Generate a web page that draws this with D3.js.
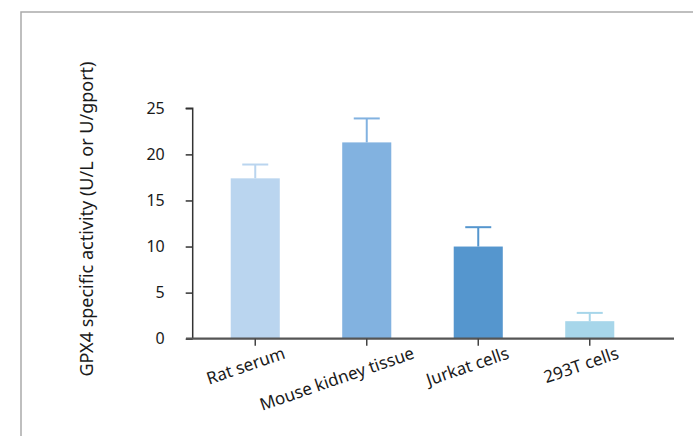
<!DOCTYPE html>
<html>
<head>
<meta charset="utf-8">
<script src="https://cdn.jsdelivr.net/npm/d3@7/dist/d3.min.js"></script>
<style>
  html, body { margin: 0; padding: 0; background: #fff; }
  svg { display: block; font-family: "Noto Sans", "Open Sans", sans-serif; }
</style>
</head>
<body>
<svg id="chart" width="693" height="436"></svg>
<script>
// GPX4 specific activity by sample type (mean + SD)
const categories = ["Rat serum", "Mouse kidney tissue", "Jurkat cells", "293T cells"];
const means = [17.4, 21.3, 10.0, 1.9];
const errors = [1.5, 2.6, 2.1, 0.9];
const barColors = ["#bad5ef", "#82b2e0", "#5596ce", "#a7d6ea"];
const yTicks = [0, 5, 10, 15, 20, 25];
const yLabel = "GPX4 specific activity (U/L or U/gport)";

const svg = d3.select("#chart");

// outer frame (top and left edges)
svg.append("path")
  .attr("d", "M21,436V12H693")
  .attr("fill", "none")
  .attr("stroke", "#ababab")
  .attr("stroke-width", 1.5);

const axisX = 192.7;
const y = d3.scaleLinear().domain([0, 25]).range([338.7, 108.3]);
const x = d3.scaleBand().domain(categories)
  .range([199.5, 645.5]).paddingInner(0.56).paddingOuter(0.28);

const data = categories.map((c, i) => ({ c, m: means[i], e: errors[i], col: barColors[i] }));

// bars
svg.append("g").selectAll("rect").data(data).join("rect")
  .attr("x", d => x(d.c))
  .attr("y", d => y(d.m))
  .attr("width", x.bandwidth())
  .attr("height", d => y(0) - y(d.m))
  .attr("fill", d => d.col);

// error bars (upper whisker + cap)
const eb = svg.append("g").selectAll("g").data(data).join("g")
  .attr("stroke", d => d.col)
  .attr("stroke-width", 2);
eb.append("line")
  .attr("x1", d => x(d.c) + x.bandwidth() / 2)
  .attr("x2", d => x(d.c) + x.bandwidth() / 2)
  .attr("y1", d => y(d.m))
  .attr("y2", d => y(d.m + d.e));
eb.append("line")
  .attr("x1", d => x(d.c) + x.bandwidth() / 2 - 13)
  .attr("x2", d => x(d.c) + x.bandwidth() / 2 + 13)
  .attr("y1", d => y(d.m + d.e))
  .attr("y2", d => y(d.m + d.e));

// y axis
const yAxis = svg.append("g")
  .attr("transform", `translate(${axisX},0)`)
  .call(d3.axisLeft(y).tickValues(yTicks).tickSize(7).tickPadding(21).tickFormat(d3.format("d")));
yAxis.select(".domain").attr("stroke", "#333").attr("stroke-width", 1.5)
  .attr("d", `M-7,${y(25)}H0V${y(0)}`);
yAxis.selectAll(".tick line").attr("stroke", "#333").attr("stroke-width", 1.5);
yAxis.selectAll(".tick text")
  .attr("fill", "#1a1a1a")
  .style("font-size", "16px")
  .style("font-family", "\"Noto Sans\", sans-serif");

// x axis
const xAxis = svg.append("g")
  .attr("transform", `translate(0,${y(0)})`)
  .call(d3.axisBottom(x).tickSize(7).tickFormat(""));
xAxis.select(".domain").attr("stroke", "#555").attr("stroke-width", 2.2)
  .attr("d", `M186,0H674`);
xAxis.selectAll(".tick line").attr("stroke", "#444").attr("stroke-width", 1.5);

// rotated category labels
const labels = svg.append("g").selectAll("text").data(categories).join("text")
  .text(d => d)
  .attr("text-anchor", "end")
  .attr("fill", "#1a1a1a")
  .style("font-size", "17px");
labels.each(function (d) {
  const len = this.getComputedTextLength();
  const ex = x(d) + x.bandwidth() / 2 + 13 + 0.22 * len;
  const ey = 358;
  d3.select(this).attr("transform", `translate(${ex},${ey}) rotate(-19)`);
});

// y axis title
svg.append("text")
  .attr("transform", "translate(93,219) rotate(-90)")
  .attr("text-anchor", "middle")
  .attr("fill", "#1a1a1a")
  .style("font-size", "18px")
  .text(yLabel);
</script>
</body>
</html>
